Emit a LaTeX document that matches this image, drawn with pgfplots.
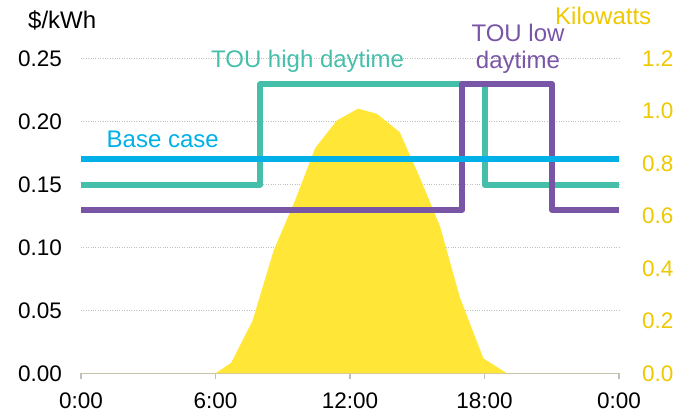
\documentclass[border=0pt]{standalone}
\usepackage{pgfplots}
\pgfplotsset{compat=1.18}
\usepackage{fontspec}
\setmainfont{Liberation Sans}
\definecolor{cblue}{RGB}{0,176,230}
\definecolor{cteal}{RGB}{69,191,170}
\definecolor{cpurple}{RGB}{121,85,165}
\definecolor{cyel}{RGB}{255,230,55}
\definecolor{cyeltxt}{RGB}{238,200,0}
\definecolor{cgrid}{RGB}{191,191,191}
\newcommand\lab{\fontsize{24}{28.8}\selectfont}
\newcommand\tk{\fontsize{22.5}{27}\selectfont}
\pgfplotsset{
  base/.style={scale only axis, width=538pt, height=314.5pt,
    at={(0pt,0pt)}, anchor=south west, xmin=0, xmax=24, clip=false,
    tick label style={font=\tk}}
}
\begin{document}
\begin{tikzpicture}
\path[use as bounding box] (-81pt,-44.7pt) rectangle (596pt,373.3pt);
% axis 1: grid, x axis, left ticks
\begin{axis}[base, ymin=0, ymax=0.25,
  axis x line*=bottom, axis y line*=left,
  x axis line style={draw=cgrid, line width=1.3pt, -},
  y axis line style={draw=none},
  xtick={0,6,12,18,24}, xticklabels={0:00,6:00,12:00,18:00,0:00},
  ytick={0,0.05,0.1,0.15,0.2,0.25},
  yticklabels={0.00,0.05,0.10,0.15,0.20,0.25},
  tick align=outside, major tick length=6pt,
  xtick style={draw=cgrid, line width=1.2pt},
  ytick style={draw=none},
  ymajorgrids, grid style={dotted, cgrid, line width=0.9pt},
  yticklabel style={anchor=east, inner sep=0pt, xshift=-13pt},
  xticklabel style={anchor=north, inner sep=0pt, yshift=-13pt},
]
\addplot[draw=none] coordinates {(0,0) (24,0)};
\end{axis}
% axis 2: kilowatts area
\begin{axis}[base, ymin=0, ymax=1.2,
  axis x line=none, axis y line*=right,
  y axis line style={draw=none},
  ytick={0,0.2,0.4,0.6,0.8,1.0,1.2},
  yticklabels={0.0,0.2,0.4,0.6,0.8,1.0,1.2},
  ytick style={draw=none}, tick align=outside, major tick length=6pt,
  yticklabel style={anchor=west, inner sep=0pt, xshift=17pt, text=cyeltxt},
]
\addplot[fill=cyel, draw=none] coordinates {
  (0,0) (6.0,0) (6.7,0.04) (7.65,0.20) (8.6,0.47) (9.55,0.66) (10.45,0.86)
  (11.42,0.965) (12.36,1.01) (13.2,0.99) (14.22,0.92) (15.15,0.74)
  (16.02,0.56) (16.9,0.29) (17.95,0.057) (19.0,0) (24,0)} \closedcycle;
\end{axis}
% axis 3: price lines
\begin{axis}[base, ymin=0, ymax=0.25, hide axis]
\addplot[cteal, line width=6pt, line join=round] coordinates {
  (0,0.15) (8,0.15) (8,0.23) (18,0.23) (18,0.15) (24,0.15)};
\addplot[cpurple, line width=6pt, line join=round] coordinates {
  (0,0.13) (17,0.13) (17,0.23) (21,0.23) (21,0.13) (24,0.13)};
\addplot[cblue, line width=6pt] coordinates {(0,0.17) (24,0.17)};
\end{axis}
\node[anchor=base west, inner sep=0pt] at (-53pt,344.3pt) {\lab \$/kWh};
\node[anchor=base west, inner sep=0pt, text=cyeltxt] at (474pt,348.3pt) {\lab Kilowatts};
\node[anchor=base, inner sep=0pt, text=cteal] at (226.6pt,305.3pt) {\lab TOU high daytime};
\node[anchor=base, inner sep=0pt, text=cpurple] at (437pt,331.6pt) {\lab TOU low};
\node[anchor=base, inner sep=0pt, text=cpurple] at (437pt,305pt) {\lab daytime};
\node[anchor=base, inner sep=0pt, text=cblue] at (81.7pt,226pt) {\lab Base case};
\end{tikzpicture}
\end{document}
